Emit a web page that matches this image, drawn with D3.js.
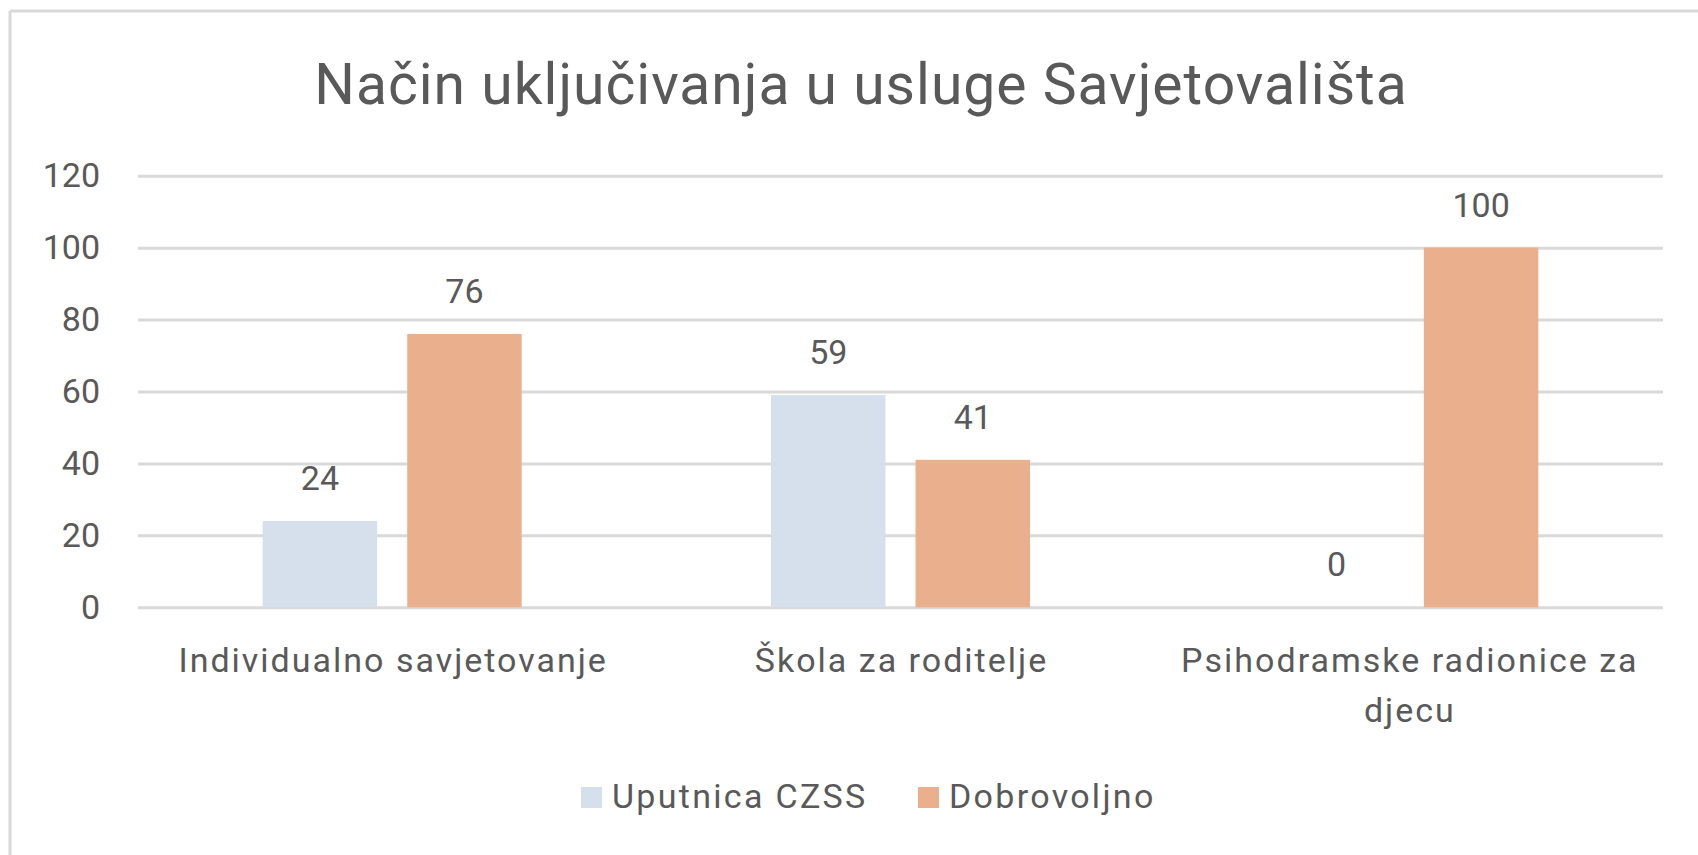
<!DOCTYPE html>
<html>
<head>
<meta charset="utf-8">
<script src="https://cdn.jsdelivr.net/npm/d3@7"></script>
<style>
  html, body { margin: 0; padding: 0; background: #fff; }
  svg { display: block; }
  text { font-family: Roboto, "Liberation Sans", sans-serif; fill: #595959; }
</style>
</head>
<body>
<svg id="chart" width="1698" height="855"></svg>
<script>
const title = "Način uključivanja u usluge Savjetovališta";
const categories = ["Individualno savjetovanje", "Škola za roditelje", "Psihodramske radionice za djecu"];
const categoryLines = [["Individualno savjetovanje"], ["Škola za roditelje"], ["Psihodramske radionice za", "djecu"]];
const seriesNames = ["Uputnica CZSS", "Dobrovoljno"];
const uputnica = [24, 59, 0];
const dobrovoljno = [76, 41, 100];
const yTicks = [0, 20, 40, 60, 80, 100, 120];
const colors = ["#D5E0EC", "#EAB08E"];

const seriesValues = [uputnica, dobrovoljno];
const svg = d3.select("#chart");

// frame
svg.append("line").attr("x1", 10).attr("x2", 1698).attr("y1", 11).attr("y2", 11)
  .attr("stroke", "#D9D9D9").attr("stroke-width", 3);
svg.append("line").attr("x1", 10).attr("x2", 10).attr("y1", 11).attr("y2", 855)
  .attr("stroke", "#D9D9D9").attr("stroke-width", 3);

const plotLeft = 138, plotRight = 1663, plotTop = 175.7, plotBottom = 607.3;

const y = d3.scaleLinear().domain([0, 120]).range([plotBottom, plotTop]);
const x0 = d3.scaleBand().domain(categories).range([plotLeft, plotRight]).paddingInner(0).paddingOuter(0);
const pairW = 259;
const x1 = d3.scaleBand().domain(seriesNames).range([0, pairW]).paddingInner(0.208).paddingOuter(0);
const pairOffset = (x0.bandwidth() - pairW) / 2;

// title
svg.append("text").attr("x", 861).attr("y", 104).attr("text-anchor", "middle")
  .style("font-size", "57px").style("letter-spacing", "1px").text(title);

// gridlines
const yAxis = d3.axisLeft(y).tickValues(yTicks).tickSize(-(plotRight - plotLeft)).tickPadding(38);
const gAxis = svg.append("g").attr("transform", `translate(${plotLeft},0)`).call(yAxis);
gAxis.select(".domain").remove();
gAxis.selectAll(".tick line").attr("stroke", "#D9D9D9").attr("stroke-width", 3);
gAxis.selectAll(".tick text").attr("fill", "#595959").style("font-size", "34px")
  .style("font-family", "Roboto, 'Liberation Sans', sans-serif");

// bars
const groups = svg.append("g").selectAll("g").data(categories).join("g")
  .attr("transform", c => `translate(${x0(c) + pairOffset},0)`);

groups.each(function(c, ci) {
  const g = d3.select(this);
  seriesNames.forEach((s, si) => {
    const v = seriesValues[si][ci];
    g.append("rect")
      .attr("x", x1(s)).attr("width", x1.bandwidth())
      .attr("y", y(v)).attr("height", y(0) - y(v))
      .attr("fill", colors[si]);
    g.append("text")
      .attr("x", x1(s) + x1.bandwidth() / 2).attr("y", y(v) - 31)
      .attr("text-anchor", "middle").style("font-size", "34px").text(v);
  });
});

// category labels
categories.forEach((c, ci) => {
  const t = svg.append("text").attr("text-anchor", "middle").style("font-size", "34px")
    .style("letter-spacing", "2px");
  categoryLines[ci].forEach((ln, li) => {
    t.append("tspan").attr("x", x0(c) + x0.bandwidth() / 2 + 1).attr("y", 672 + li * 50).text(ln);
  });
});

// legend
const legendItems = [{ name: seriesNames[0], x: 581 }, { name: seriesNames[1], x: 918 }];
legendItems.forEach((it, i) => {
  svg.append("rect").attr("x", it.x).attr("y", 787).attr("width", 21).attr("height", 21).attr("fill", colors[i]);
  svg.append("text").attr("x", it.x + 31).attr("y", 808).style("font-size", "34px")
    .style("letter-spacing", "2.3px").text(it.name);
});
</script>
</body>
</html>
